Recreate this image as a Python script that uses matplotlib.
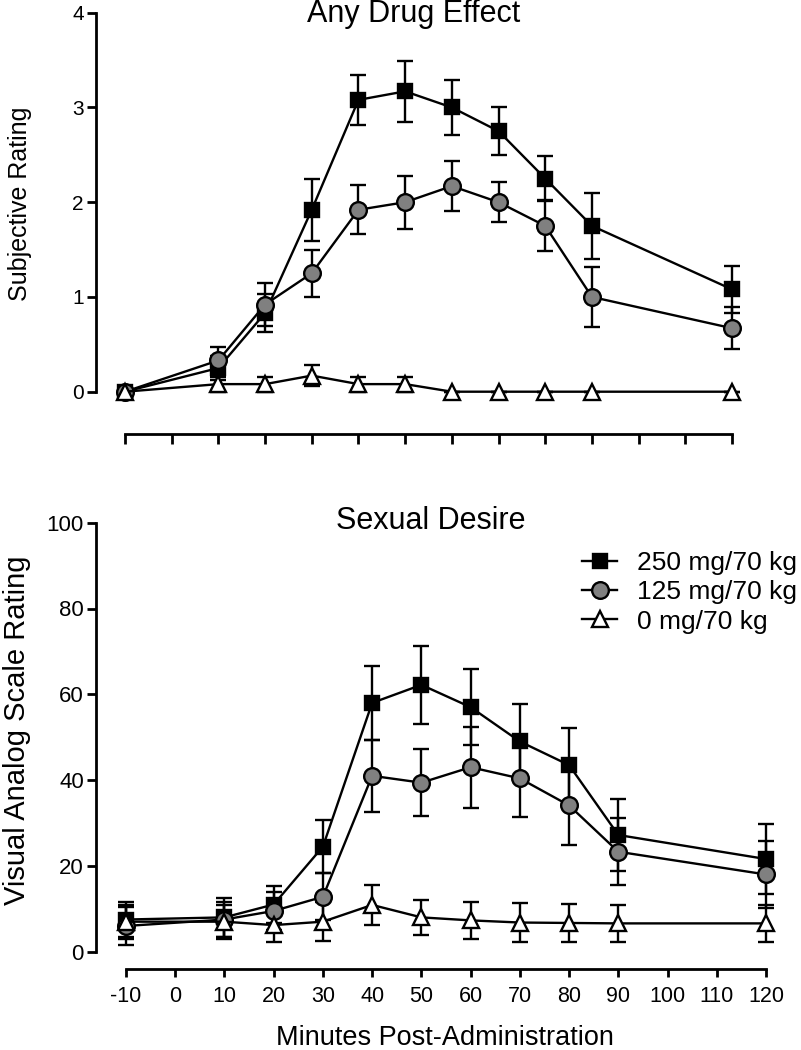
import numpy as np
import matplotlib.pyplot as plt
from matplotlib.lines import Line2D

plt.rcParams['font.family'] = ['Liberation Sans', 'DejaVu Sans']

minutes = [-10, 10, 20, 30, 40, 50, 60, 70, 80, 90, 120]
xticks = list(range(-10, 130, 10))

# Any Drug Effect (0-4 subjective rating)
ade_250 = [0.0, 0.25, 0.83, 1.92, 3.08, 3.17, 3.0, 2.75, 2.25, 1.75, 1.08]
ade_250_err = [0.0, 0.13, 0.2, 0.33, 0.26, 0.32, 0.29, 0.25, 0.24, 0.35, 0.25]
ade_125 = [0.0, 0.33, 0.92, 1.25, 1.92, 2.0, 2.17, 2.0, 1.75, 1.0, 0.67]
ade_125_err = [0.0, 0.14, 0.23, 0.25, 0.26, 0.28, 0.26, 0.21, 0.27, 0.32, 0.22]
ade_0 = [0.0, 0.08, 0.08, 0.17, 0.08, 0.08, 0.0, 0.0, 0.0, 0.0, 0.0]
ade_0_err = [0.0, 0.08, 0.08, 0.11, 0.08, 0.08, 0.0, 0.0, 0.0, 0.0, 0.0]

# Sexual Desire (VAS 0-100)
sd_250 = [7.5, 8.0, 11.0, 24.5, 58.0, 62.2, 57.0, 49.0, 43.5, 27.2, 21.6]
sd_250_err = [4.0, 4.5, 4.3, 6.2, 8.7, 9.1, 8.8, 8.7, 8.7, 8.4, 8.1]
sd_125 = [6.0, 7.5, 9.5, 12.8, 41.0, 39.4, 43.0, 40.4, 34.1, 23.3, 18.0]
sd_125_err = [4.5, 4.0, 4.5, 5.5, 8.4, 7.8, 9.4, 9.1, 9.3, 7.8, 7.8]
sd_0 = [7.0, 7.0, 6.2, 7.0, 10.9, 8.0, 7.3, 6.8, 6.7, 6.6, 6.6]
sd_0_err = [4.0, 4.0, 4.0, 4.5, 4.6, 4.1, 4.4, 4.5, 4.5, 4.4, 4.4]

labels = ['250 mg/70 kg', '125 mg/70 kg', '0 mg/70 kg']
styles = [dict(marker='s', mfc='black', ms=10.5),
          dict(marker='o', mfc='#808080', ms=12),
          dict(marker='^', mfc='white', ms=12)]

W, H = 801, 1050
fig = plt.figure(figsize=(W / 100, H / 100), dpi=100)


def px_axes(x0, x1, ytop, ybot):
    return fig.add_axes([x0 / W, 1 - ybot / H, (x1 - x0) / W, (ybot - ytop) / H])


def draw(ax, series, errs):
    for (y, e), st in zip(zip(series, errs), styles):
        ax.errorbar(minutes, y, yerr=e, color='black', lw=1.7, mec='black',
                    mew=1.7, capsize=5.5, capthick=1.7, elinewidth=1.7,
                    clip_on=False, **st)


def style(ax, left_off, bottom_off, xtick_len):
    ax.spines['top'].set_visible(False)
    ax.spines['right'].set_visible(False)
    ax.spines['left'].set_position(('outward', left_off))
    ax.spines['bottom'].set_position(('outward', bottom_off))
    for s in ('left', 'bottom'):
        ax.spines[s].set_linewidth(2)
    ax.set_xlim(-10, 120)
    ax.set_xticks(xticks)
    ax.spines['bottom'].set_bounds(-10, 120)
    ax.tick_params(axis='x', width=2, length=xtick_len, direction='out', pad=6.5)
    ax.tick_params(axis='y', width=2, length=6.2, direction='out', pad=2.5)


# top panel
ax1 = px_axes(125, 732, 12.7, 391.7)
draw(ax1, [ade_250, ade_125, ade_0], [ade_250_err, ade_125_err, ade_0_err])
style(ax1, 20.9, 30.5, 7.2)
ax1.set_ylim(0, 4)
ax1.set_yticks([0, 1, 2, 3, 4])
ax1.spines['left'].set_bounds(0, 4)
ax1.set_xticklabels([])
ax1.tick_params(axis='y', labelsize=15)
fig.text(414 / W, 1 - 14 / H, 'Any Drug Effect', ha='center', va='center', fontsize=22)
fig.text(20 / W, 1 - 204 / H, 'Subjective Rating', ha='center', va='center',
         rotation=90, fontsize=18)

# bottom panel
ax2 = px_axes(126, 766, 522.7, 951.7)
draw(ax2, [sd_250, sd_125, sd_0], [sd_250_err, sd_125_err, sd_0_err])
style(ax2, 21.6, 12.5, 5.5)
ax2.set_ylim(0, 100)
ax2.set_yticks([0, 20, 40, 60, 80, 100])
ax2.spines['left'].set_bounds(0, 100)
ax2.set_xticklabels([str(t) for t in xticks])
ax2.tick_params(axis='x', labelsize=15.5)
ax2.tick_params(axis='y', labelsize=16)
fig.text(431 / W, 1 - 521 / H, 'Sexual Desire', ha='center', va='center', fontsize=22)
fig.text(17 / W, 1 - 730 / H, 'Visual Analog Scale Rating', ha='center', va='center',
         rotation=90, fontsize=21)
fig.text(445 / W, 1 - 1038 / H, 'Minutes Post-Administration', ha='center', va='center',
         fontsize=19.5)

handles = [Line2D([], [], color='black', lw=1.7, mec='black', mew=1.7, **st)
           for st in styles]
fig.legend(handles, labels, loc='upper left', bbox_to_anchor=(582 / W, 1 - 551 / H),
           frameon=False, fontsize=19, handlelength=1.33, handletextpad=0.76,
           labelspacing=0.2, borderpad=0, borderaxespad=0)

fig.savefig('out.png', dpi=100)
